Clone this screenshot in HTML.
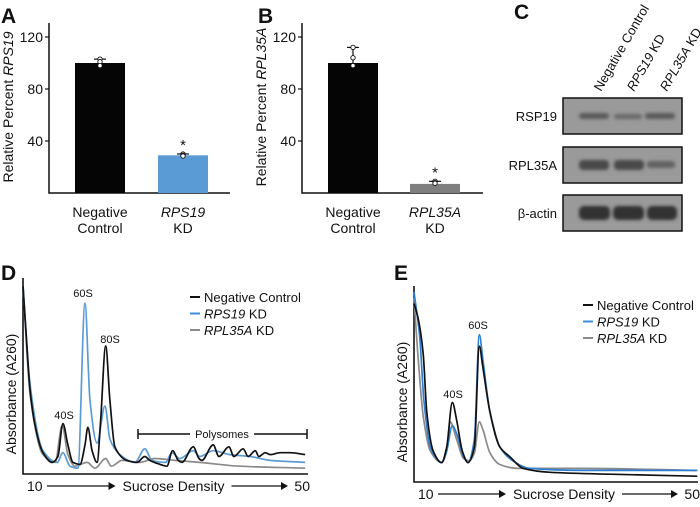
<!DOCTYPE html>
<html><head><meta charset="utf-8"><style>
body{margin:0;background:#fff}
svg text{font-family:"Liberation Sans",Arial,sans-serif;fill:#111}
</style></head><body>
<svg id="fig" width="700" height="502" viewBox="0 0 700 502" xmlns="http://www.w3.org/2000/svg">
<g font-weight="bold" font-size="21">
<text x="1" y="23">A</text>
<text x="258" y="23">B</text>
<text x="514" y="19">C</text>
<text x="1" y="280">D</text>
<text x="394" y="280">E</text>
</g>
<g id="barA"></g>
<g id="barB"></g>
<g font-size="13">
<defs>
<filter id="blur"><feGaussianBlur stdDeviation="1.6"/></filter>
</defs>
<text transform="translate(601,92) rotate(-60)" font-size="13">Negative Control</text>
<text transform="translate(634,92) rotate(-60)" font-size="13"><tspan font-style="italic">RPS19</tspan> KD</text>
<text transform="translate(667,92) rotate(-60)" font-size="13"><tspan font-style="italic">RPL35A</tspan> KD</text>
<rect x="563" y="98" width="119" height="36" fill="#9a9a9a" stroke="#111" stroke-width="1.5"/>
<rect x="563" y="147" width="119" height="36" fill="#9a9a9a" stroke="#111" stroke-width="1.5"/>
<rect x="563" y="195" width="119" height="36" fill="#9a9a9a" stroke="#111" stroke-width="1.5"/>
<g filter="url(#blur)" fill="#4a4a4a">
<rect x="579" y="113" width="30" height="6" rx="3" opacity="0.8"/><rect x="614" y="114" width="28" height="5" rx="2.5" opacity="0.6"/><rect x="645" y="113" width="30" height="6" rx="3" opacity="0.8"/>
<rect x="579" y="160" width="30" height="10" rx="4"/><rect x="614" y="160" width="30" height="10" rx="4"/><rect x="647" y="161" width="28" height="7" rx="3" opacity="0.7"/>
<rect x="579" y="206" width="31" height="14" rx="5" fill="#333"/><rect x="613" y="206" width="31" height="14" rx="5" fill="#333"/><rect x="647" y="206" width="30" height="14" rx="5" fill="#333"/>
</g>
<text x="557" y="121" text-anchor="end">RSP19</text>
<text x="557" y="170" text-anchor="end">RPL35A</text>
<text x="557" y="218" text-anchor="end">β-actin</text>
</g>
<g id="profD"></g>
<g id="profE"></g>
</svg>
<script>
// ---- Bar chart data ----
const barCatsA = ["Negative Control", "RPS19 KD"];
const barValsA = [100, 29];
const barPtsA = [[103, 101, 98], [30, 29, 28.5]];
const barCatsB = ["Negative Control", "RPL35A KD"];
const barValsB = [100, 7];
const barPtsB = [[112, 104, 98], [9, 8, 7.5]];
const barTicks = [40, 80, 120];

// ---- Profile D data (density %, absorbance a.u.) ----
const dDensBlack = [10,10.4,11,11.7,12.8,14.1,14.9,15.6,16.3,17,18,18.7,19.1,19.7,20.4,20.9,21.6,22.2,22.9,24.6,26,27.1,27.8,29.2,30.2,31,31.8,32.3,33.9,34.7,35.1,36.7,37.5,38.9,39.6,40.9,41.6,42.6,43.1,44,44.7,46.1,47.5,49.6];
const dAbsBlack = [97,74,43,25,11,6,9,26,15,6,5,15,24,12,6,28,66,38,14,7,6,9,7,5,4,12,7,6,14,8,7,15,9,14,9,13,9,12,9,11,10,11,11,10];
const dDensBlue = [10,11,12.8,14.8,15.6,16.6,17.7,18.7,19.4,20.4,21.5,22.2,23.6,25.7,27.1,28.1,30,30.9,32,33.9,34.8,36.7,39,41.9,44.7,49.6];
const dAbsBlue = [97,46,12,6,11,4,3,88,38,16,35,18,10,6,13,7,6,11,8,12,9,12,10,9,7,6];
const dDensGray = [10,11,12.8,14.5,15.5,16.3,17.3,19,20.1,21.6,22.4,23.9,26.4,28.5,31.3,34.8,40.5,49.6];
const dAbsGray = [97,41,10,6,25,10,4,6,3,8,4,7,6,8,7,6,4,3];
// ---- Profile E data ----
const eDensBlack = [10,10.6,11.3,11.8,12.7,13.9,14.6,15.4,16,16.8,17.6,18.5,19.2,19.7,20.7,22.1,23.5,25.4,29.2,37.6,49.9];
const eAbsBlack = [92,84,66,36,16,10,18,41,32,16,10,18,70,59,36,18,13,7,5,4,3];
const eDensBlue = [10,10.8,11.4,12.3,13.9,14.6,15.4,16,17,17.6,18.5,19.2,19.7,20.7,22.1,23.9,26.3,33.8,49.9];
const eAbsBlue = [98,75,42,18,10,16,29,25,13,10,22,76,63,36,18,11,7,6,6];
const eDensGray = [10,10.6,11.3,12.3,13.9,14.6,15.1,16,17,17.8,18.5,19.2,19.7,20.7,22.1,24.5,33.8,49.9];
const eAbsGray = [95,63,34,16,10,16,31,22,12,11,15,31,27,15,9,7,7,6];

const NS = "http://www.w3.org/2000/svg";
function mk(parent, tag, attrs, text){
  const e = document.createElementNS(NS, tag);
  for (const k in attrs) e.setAttribute(k, attrs[k]);
  if (text !== undefined) e.textContent = text;
  parent.appendChild(e);
  return e;
}

function barChart(gid, axX, axEnd, cats, vals, pts, colors, title, italicWord, slotW) {
  const g = document.getElementById(gid);
  const base = 193, top = 23;
  const y = v => base - v * 1.3;
  const ax = mk(g, 'path', {d:`M${axX},${top} V${base} H${axEnd}`, fill:'none', stroke:'#111', 'stroke-width':1.5});
  
  
  barTicks.forEach(t => {
    mk(g, 'line', {x1:axX-4, x2:axX, y1:y(t), y2:y(t), stroke:'#111', 'stroke-width':1.2});
    const tl = mk(g, 'text', {x:axX-6, y:y(t)+5, 'text-anchor':'end', 'font-size':14}, t);
    
    
  });
  const tt = mk(g, 'text', {transform:`translate(${axX-36},${base-86}) rotate(-90)`, 'text-anchor':'middle', 'font-size':14});
  
  
  mk(tt, 'tspan', {}, title + ' ');
  mk(tt, 'tspan', {'font-style':'italic'}, italicWord);
  cats.forEach((c, i) => {
    const cx = axX + 51 + i * slotW;
    const b = mk(g, 'rect', {x:cx-25, y:y(vals[i]), width:50, height:base - y(vals[i]), fill:colors[i]});
    
    
    const mx = Math.max(...pts[i]), mn = Math.min(...pts[i]);
    mk(g, 'line', {x1:cx, x2:cx, y1:y(mx), y2:y(mn), stroke:'#111', 'stroke-width':1.2});
    mk(g, 'line', {x1:cx-6, x2:cx+6, y1:y(mx), y2:y(mx), stroke:'#111', 'stroke-width':1.2});
    pts[i].forEach(p => mk(g, 'circle', {cx:cx, cy:y(p), r:2.2, fill:'#fff', stroke:'#111', 'stroke-width':0.9}));
    if (i === 1) {
      const s = mk(g, 'text', {x:cx, y:y(mx)-4, 'text-anchor':'middle', 'font-size':15}, '*');
      
      
    }
    const parts = c.split(' ');
    let l1, l2, it;
    if (c === 'Negative Control') { l1 = 'Negative'; l2 = 'Control'; it = false; }
    else { l1 = parts[0]; l2 = parts[1]; it = true; }
    const a = mk(g, 'text', {x:cx, y:217, 'text-anchor':'middle', 'font-size':14, 'font-style': it ? 'italic' : 'normal'}, l1);
    
    
    mk(g, 'text', {x:cx, y:233, 'text-anchor':'middle', 'font-size':14}, l2);
  });
}
barChart('barA', 49, 230, barCatsA, barValsA, barPtsA, ['#050505', '#5b9bd5'], 'Relative Percent', 'RPS19', 83);
barChart('barB', 302, 483, barCatsB, barValsB, barPtsB, ['#050505', '#7f7f7f'], 'Relative Percent', 'RPL35A', 82);

// monotone cubic interpolation (no overshoot)
function smooth(P) {
  const n = P.length, dx = [], m = [], t = [];
  for (let i = 0; i < n-1; i++) { dx[i] = P[i+1][0]-P[i][0]; m[i] = (P[i+1][1]-P[i][1])/dx[i]; }
  t[0] = m[0]; t[n-1] = m[n-2];
  for (let i = 1; i < n-1; i++) {
    if (m[i-1]*m[i] <= 0) t[i] = 0;
    else { const w1 = 2*dx[i]+dx[i-1], w2 = dx[i]+2*dx[i-1]; t[i] = (w1+w2)/(w1/m[i-1]+w2/m[i]); }
  }
  let d = `M${P[0][0].toFixed(1)},${P[0][1].toFixed(1)}`;
  for (let i = 0; i < n-1; i++) {
    const h = dx[i]/3;
    d += ` C${(P[i][0]+h).toFixed(1)},${(P[i][1]+t[i]*h).toFixed(1)} ${(P[i+1][0]-h).toFixed(1)},${(P[i+1][1]-t[i+1]*h).toFixed(1)} ${P[i+1][0].toFixed(1)},${P[i+1][1].toFixed(1)}`;
  }
  return d;
}

function profile(gid, x0, x1, base, top, series, legX, legY, labels, opts) {
  const g = document.getElementById(gid);
  const sx = d => x0 + (d - 10) / 40 * (x1 - x0);
  const sy = a => base - a * 1.94;
  const ax = mk(g, 'path', {d:`M${x0},${top} V${base} H${x1}`, fill:'none', stroke:'#111', 'stroke-width':1.6});
  
  
  const yt = mk(g, 'text', {transform:`translate(${x0-7},${base-80}) rotate(-90)`, 'text-anchor':'middle', 'font-size':14}, 'Absorbance (A260)');
  
  
  const ly = base + 17;
  const t10 = mk(g, 'text', {x:x0+4, y:ly, 'font-size':14}, '10');
  
  
  const t50 = mk(g, 'text', {x:x1+2, y:ly, 'text-anchor':'end', 'font-size':14}, '50');
  
  
  const mid = (x0 + x1) / 2 + 8;
  const xt = mk(g, 'text', {x:mid, y:ly, 'text-anchor':'middle', 'font-size':14}, 'Sucrose Density');
  
  
  const ay = ly - 5;
  [[x0+24, mid-58], [mid+58, x1-20]].forEach(([a, b]) => {
    mk(g, 'line', {x1:a, x2:b-6, y1:ay, y2:ay, stroke:'#111', 'stroke-width':1.2});
    mk(g, 'path', {d:`M${b-7},${ay-4} L${b},${ay} L${b-7},${ay+4}Z`, fill:'#111'});
  });
  series.forEach(s => {
    const P = s.dens.map((d, i) => [sx(d), sy(s.abs[i])]);
    const p = mk(g, 'path', {d:smooth(P), fill:'none', stroke:s.color, 'stroke-width':1.7, 'stroke-linejoin':'round'});
    
    
  });
  const legNames = [['', 'Negative Control'], ['RPS19', '  KD'], ['RPL35A', ' KD']];
  ['#111', '#3d8fdc', '#8a8a8a'].forEach((c, i) => {
    const yy = legY + i * 16.5;
    mk(g, 'line', {x1:legX, x2:legX+10, y1:yy, y2:yy, stroke:c, 'stroke-width':2});
    const t = mk(g, 'text', {x:legX+14, y:yy+5, 'font-size':13});
    
    
    if (i === 0) t.textContent = 'Negative Control';
    else { mk(t, 'tspan', {'font-style':'italic'}, legNames[i][0]); mk(t, 'tspan', {'xml:space':'preserve'}, legNames[i][1]); }
  });
  labels.forEach(l => {
    const t = mk(g, 'text', {x:l[1], y:l[2], 'text-anchor':'middle', 'font-size':11}, l[0]);
    
    
  });
  if (opts && opts.poly) {
    const py = 434;
    mk(g, 'path', {d:`M138,${py-5} V${py+5} M138,${py} H190 M254,${py} H307 M307,${py-5} V${py+5}`, fill:'none', stroke:'#111', 'stroke-width':1.5});
    const pt = mk(g, 'text', {x:222, y:py+4, 'text-anchor':'middle', 'font-size':11}, 'Polysomes');
    
    
  }
}

profile('profD', 23, 308, 474, 278, [
  {dens:dDensGray, abs:dAbsGray, color:'#8a8a8a', name:'line-rpl35a-kd'},
  {dens:dDensBlue, abs:dAbsBlue, color:'#5b9bd5', name:'line-rps19-kd'},
  {dens:dDensBlack, abs:dAbsBlack, color:'#111', name:'line-negative-control'}
], 190, 297, [['60S', 83, 297], ['80S', 110, 343], ['40S', 64, 419]], {poly:true});

profile('profE', 414, 698, 482, 286, [
  {dens:eDensGray, abs:eAbsGray, color:'#8a8a8a', name:'line-rpl35a-kd'},
  {dens:eDensBlue, abs:eAbsBlue, color:'#2f7fd0', name:'line-rps19-kd'},
  {dens:eDensBlack, abs:eAbsBlack, color:'#111', name:'line-negative-control'}
], 583, 305, [['60S', 478, 329], ['40S', 453, 398]], {});
</script>
</body></html>
